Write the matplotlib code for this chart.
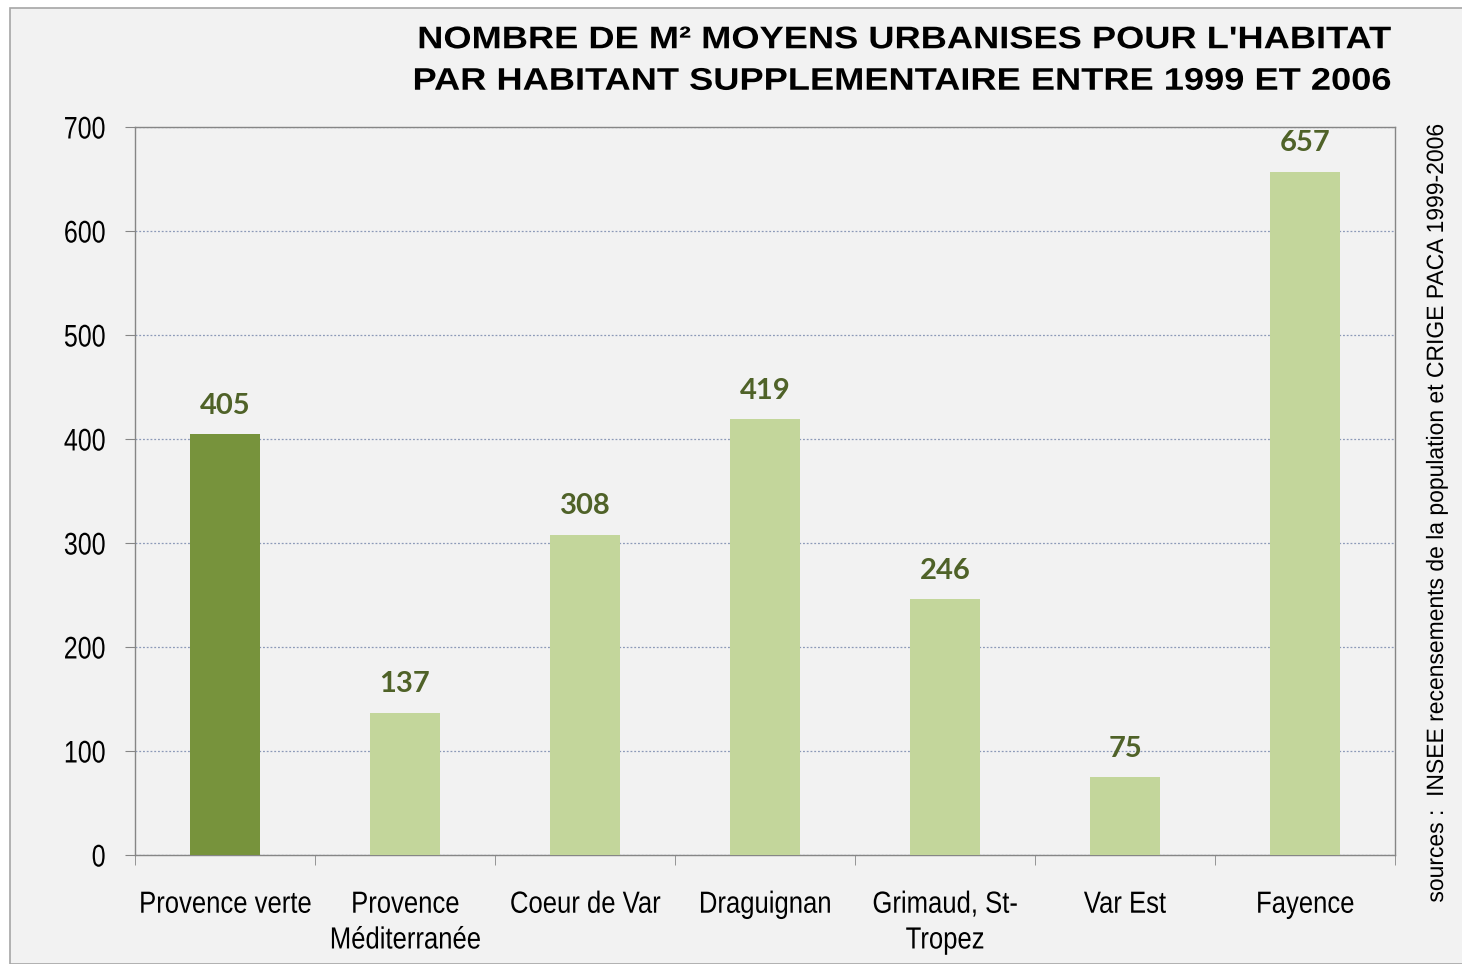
import matplotlib.pyplot as plt
from matplotlib.patches import Rectangle
from matplotlib.patheffects import AbstractPathEffect
from matplotlib.transforms import Affine2D
import numpy as np

# donnees
categories = ['Provence verte', 'Provence\nMéditerranée', 'Coeur de Var', 'Draguignan',
              'Grimaud, St-\nTropez', 'Var Est', 'Fayence']
valeurs = [405, 137, 308, 419, 246, 75, 657]
yticks = [0, 100, 200, 300, 400, 500, 600, 700]


class Stretch(AbstractPathEffect):
    # etire/comprime le texte horizontalement (pas de police "narrow" dispo)
    def __init__(self, sx, anchor='center'):
        super().__init__()
        self.sx = sx
        self.anchor = anchor

    def draw_path(self, renderer, gc, tpath, affine, rgbFace=None):
        ext = tpath.get_extents()
        if self.anchor == 'right':
            cx = ext.x1
        elif self.anchor == 'left':
            cx = ext.x0
        else:
            cx = (ext.x0 + ext.x1) / 2
        t = Affine2D().translate(-cx, 0).scale(self.sx, 1).translate(cx, 0) + affine
        renderer.draw_path(gc, tpath, t, rgbFace)


sans = ['Liberation Sans', 'DejaVu Sans']

fig = plt.figure(figsize=(14.62, 9.64), dpi=100)
fig.patch.set_facecolor('white')
fig.patches.append(Rectangle((10/1462, 0), 1.0, 1 - 8/964, transform=fig.transFigure,
                             facecolor='#f2f2f2', edgecolor='#a6a6a6', linewidth=1.2, zorder=-10))

ax = fig.add_axes([135/1462, 109/964, 1260/1462, 728/964])
ax.set_facecolor('#f2f2f2')

x = np.arange(len(categories))
couleurs = ['#77933c'] + ['#c3d69b'] * (len(categories) - 1)
ax.bar(x, valeurs, width=0.39, color=couleurs, zorder=3)

for xi, v in zip(x, valeurs):
    ax.annotate(str(v), (xi, v), xytext=(0, 11), textcoords='offset points',
                ha='center', va='bottom', fontsize=21, fontweight='bold',
                color='#4f6228', family=['Lato', 'DejaVu Sans'])

ax.set_xlim(-0.5, len(categories) - 0.5)
ax.set_ylim(0, 700)
ax.set_yticks(yticks)
ax.set_yticklabels([str(t) for t in yticks], family=sans, fontsize=22.5,
                   path_effects=[Stretch(0.8, 'right')])
ax.set_xticks(x)
ax.set_xticklabels(categories, family=sans, fontsize=22, linespacing=1.25,
                   path_effects=[Stretch(0.84)])
ax.set_xticks(np.arange(-0.5, len(categories)), minor=True)
ax.tick_params(axis='x', which='major', length=0, pad=25)
ax.tick_params(axis='x', which='minor', length=7, color='#868686', direction='out')
ax.tick_params(axis='y', length=7, color='#868686', pad=14)

ax.yaxis.grid(True, linestyle=(0, (1.5, 1.5)), color='#8c9ab8', linewidth=0.9, zorder=0)
for s in ax.spines.values():
    s.set_color('#868686')
    s.set_linewidth(1.0)

fig.text(1392/1462, 1 - 61/964, "NOMBRE DE M² MOYENS URBANISES POUR L'HABITAT\nPAR HABITANT SUPPLEMENTAIRE ENTRE 1999 ET 2006",
         ha='right', va='center', fontsize=22.5, fontweight='bold', family=sans,
         linespacing=1.5, path_effects=[Stretch(1.16, 'right')])
fig.text(1437/1462, 1 - 513/964, 'sources :  INSEE recensements de la population et CRIGE PACA 1999-2006',
         rotation=90, ha='center', va='center', fontsize=17, family=sans,
         path_effects=[Stretch(0.97)])

fig.savefig('out.png', dpi=100, facecolor=fig.get_facecolor())
